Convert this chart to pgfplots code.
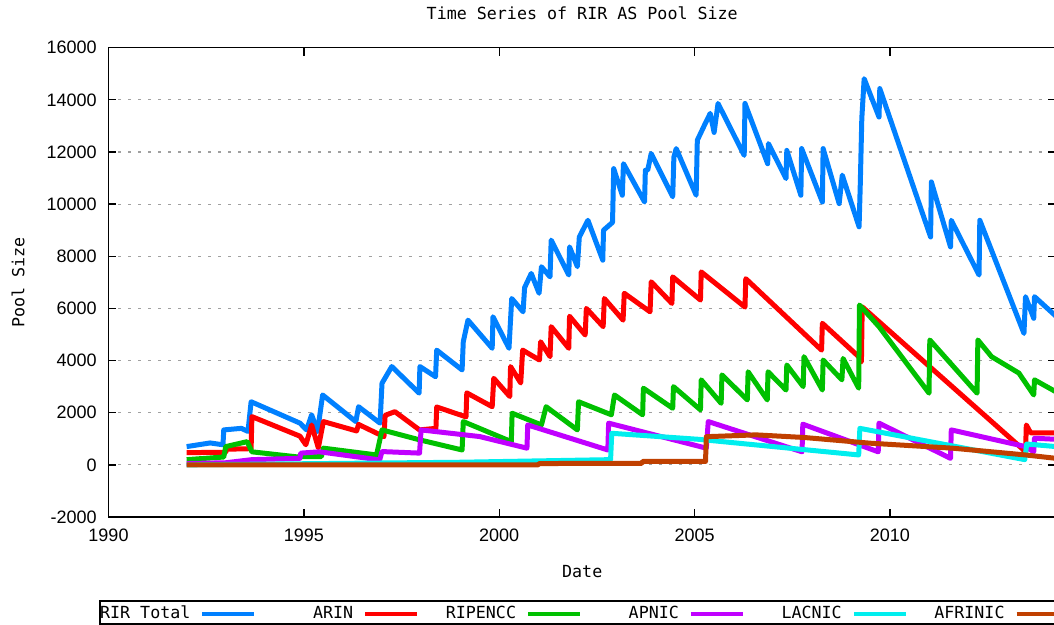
\documentclass[border=0pt]{standalone}
\usepackage{pgfplots}
\pgfplotsset{compat=1.18}
\usepackage{fontspec}
\setmainfont{DejaVu Sans Mono}
\newfontfamily\tickfont{Liberation Sans}

\definecolor{cTotal}{HTML}{0080FF}
\definecolor{cArin}{HTML}{FF0000}
\definecolor{cRipe}{HTML}{00C000}
\definecolor{cApnic}{HTML}{C000FF}
\definecolor{cLacnic}{HTML}{00EEEE}
\definecolor{cAfrinic}{HTML}{C04000}
\definecolor{gridgray}{HTML}{A0A0A0}

\begin{document}
\begin{tikzpicture}
\useasboundingbox (-65.1pt,-64.8pt) rectangle (567.3pt,310.2pt);
\begin{axis}[
  scale only axis,
  width=568.5pt, height=281.6pt,
  xmin=1990, xmax=2014.25,
  ymin=-2000, ymax=16000,
  xtick={1990,1995,2000,2005,2010},
  ytick distance=2000,
  scaled y ticks=false,
  scaled x ticks=false,
  tick align=inside,
  major tick length=4.8pt,
  tick style={black, line width=0.8pt},
  axis line style={black, line width=0.9pt},
  ymajorgrids,
  grid style={gridgray, line width=0.7pt, dash pattern=on 1.8pt off 4.2pt},
  /pgf/number format/assume math mode=true,
  /pgf/number format/1000 sep={},
  ticklabel style={font=\tickfont\fontsize{10.8}{13}\selectfont},
  yticklabel style={xshift=-3.6pt},
  xticklabel style={yshift=-3.6pt},
  title={Time Series of RIR AS Pool Size},
  title style={font=\fontsize{10}{12}\selectfont, at={(axis description cs:0.5,1.0511)}, anchor=center},
  xlabel={Date},
  xlabel style={font=\fontsize{10}{12}\selectfont, at={(axis description cs:0.5,-0.1172)}, anchor=center},
  ylabel={Pool Size},
  ylabel style={font=\fontsize{10}{12}\selectfont, at={(axis description cs:-0.0955,0.5)}, anchor=center},
  every axis plot/.append style={line width=3pt, line join=round},
  legend columns=6,
  legend plot pos=right,
  legend image code/.code={\draw[#1, line width=2.5pt] (0pt,0pt) -- (31.2pt,0pt);},
  legend style={draw=none, fill=none, inner sep=0pt, column sep=6pt,
    font=\fontsize{10}{12}\selectfont,
    nodes={inner xsep=0pt},
    at={(axis description cs:-0.00538,-0.2060)}, anchor=west},
]
\addplot[cTotal] coordinates {
(1992.0,700) (1992.6,840) (1992.93,770) (1992.95,1340) (1993.4,1400) (1993.57,1280)
(1993.65,2420) (1994.9,1600) (1995.07,1340) (1995.2,1920) (1995.35,1280) (1995.48,2680)
(1996.33,1660) (1996.4,2230) (1996.95,1600) (1997.0,3130) (1997.25,3770) (1997.95,2750)
(1997.97,3770) (1998.37,3380) (1998.4,4400) (1999.05,3640) (1999.08,4720) (1999.2,5550)
(1999.82,4470) (1999.84,5680) (2000.25,4470) (2000.32,6380) (2000.61,5870) (2000.65,6800)
(2000.82,7340) (2001.02,6580) (2001.08,7600) (2001.3,7210) (2001.33,8620) (2001.78,7280)
(2001.8,8360) (2002.0,7600) (2002.05,8740) (2002.27,9380) (2002.65,7850) (2002.67,9000)
(2002.9,9300) (2002.93,11360) (2003.15,10340) (2003.18,11550) (2003.72,10080) (2003.74,11300)
(2003.8,11300) (2003.89,11940) (2004.44,10280) (2004.47,11800) (2004.53,12130) (2005.04,10340)
(2005.07,12450) (2005.25,13020) (2005.4,13480) (2005.5,12750) (2005.6,13860) (2006.27,11870)
(2006.29,13860) (2006.87,11550) (2006.89,12320) (2007.34,10980) (2007.36,12060) (2007.72,10340)
(2007.74,12130) (2008.27,10080) (2008.29,12130) (2008.7,10020) (2008.78,11110) (2009.21,9130)
(2009.24,10720) (2009.28,13290) (2009.34,14810) (2009.72,13340) (2009.74,14430) (2011.04,8740)
(2011.06,10850) (2011.55,8360) (2011.57,9380) (2012.28,7280) (2012.3,9380) (2013.43,5040)
(2013.47,6450) (2013.68,5620) (2013.7,6450) (2014.25,5700)
};
\addlegendentry{\makebox[52pt][r]{RIR Total}}
\addplot[cArin] coordinates {
(1992.0,470) (1993.0,480) (1993.02,600) (1993.65,620) (1993.67,1850) (1994.9,1100)
(1995.05,770) (1995.2,1530) (1995.37,650) (1995.5,1660) (1996.35,1300) (1996.4,1550)
(1997.05,1080) (1997.08,1900) (1997.33,2040) (1997.96,1340) (1998.38,1400) (1998.4,2220)
(1999.15,1840) (1999.17,2760) (1999.82,2230) (1999.86,3320) (2000.27,2620) (2000.29,3770)
(2000.55,3140) (2000.6,4400) (2001.03,4020) (2001.06,4720) (2001.3,4150) (2001.33,5300)
(2001.78,4470) (2001.8,5700) (2002.2,4980) (2002.23,6000) (2002.66,5300) (2002.69,6380)
(2003.17,5550) (2003.2,6580) (2003.86,5870) (2003.89,7020) (2004.42,6190) (2004.44,7210)
(2005.15,6320) (2005.17,7400) (2006.29,6050) (2006.31,7140) (2008.25,4400) (2008.27,5430)
(2009.2,4150) (2009.27,3950) (2009.29,6060) (2013.4,600) (2013.47,450) (2013.49,1530)
(2013.6,1230) (2014.25,1230)
};
\addlegendentry{\makebox[52pt][r]{ARIN}}
\addplot[cRipe] coordinates {
(1992.0,200) (1992.95,300) (1993.0,700) (1993.55,890) (1993.67,500) (1994.8,310)
(1995.45,320) (1995.5,640) (1996.86,380) (1997.0,1340) (1997.96,960) (1999.05,570)
(1999.08,1660) (2000.31,890) (2000.33,1980) (2001.08,1530) (2001.2,2230) (2002.0,1340)
(2002.03,2420) (2002.87,1920) (2002.95,2680) (2003.67,1920) (2003.69,2940) (2004.44,2170)
(2004.46,3000) (2005.15,2110) (2005.17,3260) (2005.68,2360) (2005.7,3450) (2006.35,2490)
(2006.37,3570) (2006.86,2490) (2006.88,3570) (2007.34,2870) (2007.36,3830) (2007.78,3000)
(2007.8,4150) (2008.27,2870) (2008.29,4020) (2008.77,3260) (2008.8,4080) (2009.2,2940)
(2009.22,6130) (2009.72,5300) (2011.0,2750) (2011.02,4790) (2012.23,2750) (2012.25,4790)
(2012.6,4150) (2013.3,3520) (2013.68,2680) (2013.7,3260) (2014.25,2800)
};
\addlegendentry{\makebox[52pt][r]{RIPENCC}}
\addplot[cApnic] coordinates {
(1992.0,50) (1993.0,80) (1993.67,200) (1994.9,250) (1994.92,450) (1995.4,500)
(1996.94,190) (1997.0,510) (1997.96,450) (1998.0,1340) (1999.5,1085) (2000.71,640)
(2000.73,1530) (2002.78,570) (2002.8,1600) (2005.3,640) (2005.35,1660) (2007.75,500)
(2007.77,1560) (2009.7,500) (2009.72,1600) (2011.55,250) (2011.57,1340) (2013.47,700)
(2013.68,500) (2013.7,1020) (2014.25,980)
};
\addlegendentry{\makebox[52pt][r]{APNIC}}
\addplot[cLacnic] coordinates {
(1992.0,0) (1995.5,50) (1999.0,100) (2002.85,200) (2002.88,1210) (2005.1,980)
(2009.2,380) (2009.23,1400) (2013.45,200) (2013.5,800) (2014.25,700)
};
\addlegendentry{\makebox[52pt][r]{LACNIC}}
\addplot[cAfrinic] coordinates {
(1992.0,0) (2001.0,0) (2001.02,50) (2003.65,60) (2003.67,130) (2005.28,130)
(2005.3,1080) (2006.57,1150) (2007.8,1050) (2009.5,830) (2011.6,640) (2013.47,380)
(2014.25,250)
};
\addlegendentry{\makebox[52pt][r]{AFRINIC}}
\end{axis}
\draw[black, line width=0.9pt] (-5.1pt,-50.4pt) rectangle (620pt,-64.2pt);
\end{tikzpicture}
\end{document}
